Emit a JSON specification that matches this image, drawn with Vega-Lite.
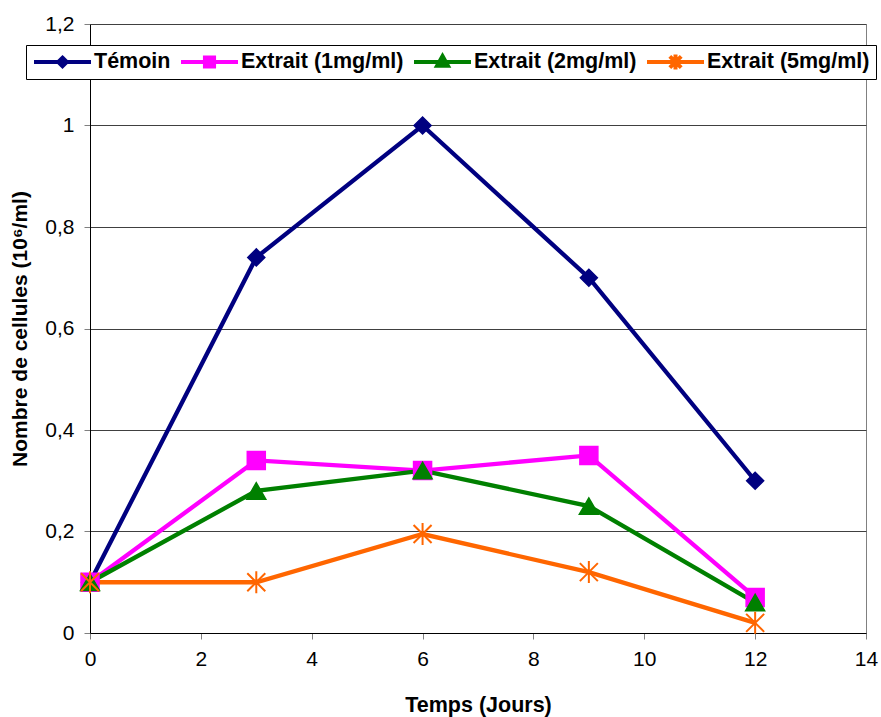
{
  "$schema": "https://vega.github.io/schema/vega-lite/v6.json",
  "autosize": "none",
  "width": 776,
  "height": 609,
  "padding": {"left": 90, "top": 24, "right": 15, "bottom": 84},
  "background": "white",
  "config": {
    "view": {"stroke": "#808080", "strokeWidth": 1},
    "font": "Liberation Sans"
  },
  "data": {
    "values": [
      {"serie": "Témoin", "jour": 0, "valeur": 0.1},
      {"serie": "Témoin", "jour": 3, "valeur": 0.74},
      {"serie": "Témoin", "jour": 6, "valeur": 1.0},
      {"serie": "Témoin", "jour": 9, "valeur": 0.7},
      {"serie": "Témoin", "jour": 12, "valeur": 0.3},
      {"serie": "Extrait (1mg/ml)", "jour": 0, "valeur": 0.1},
      {"serie": "Extrait (1mg/ml)", "jour": 3, "valeur": 0.34},
      {"serie": "Extrait (1mg/ml)", "jour": 6, "valeur": 0.32},
      {"serie": "Extrait (1mg/ml)", "jour": 9, "valeur": 0.35},
      {"serie": "Extrait (1mg/ml)", "jour": 12, "valeur": 0.07},
      {"serie": "Extrait (2mg/ml)", "jour": 0, "valeur": 0.1},
      {"serie": "Extrait (2mg/ml)", "jour": 3, "valeur": 0.28},
      {"serie": "Extrait (2mg/ml)", "jour": 6, "valeur": 0.32},
      {"serie": "Extrait (2mg/ml)", "jour": 9, "valeur": 0.25},
      {"serie": "Extrait (2mg/ml)", "jour": 12, "valeur": 0.06},
      {"serie": "Extrait (5mg/ml)", "jour": 0, "valeur": 0.1},
      {"serie": "Extrait (5mg/ml)", "jour": 3, "valeur": 0.1},
      {"serie": "Extrait (5mg/ml)", "jour": 6, "valeur": 0.195},
      {"serie": "Extrait (5mg/ml)", "jour": 9, "valeur": 0.12},
      {"serie": "Extrait (5mg/ml)", "jour": 12, "valeur": 0.02}
    ]
  },
  "encoding": {
    "x": {
      "field": "jour",
      "type": "quantitative",
      "scale": {"domain": [0, 14], "nice": false, "zero": false},
      "axis": {
        "values": [0, 2, 4, 6, 8, 10, 12, 14],
        "grid": false,
        "domainColor": "black",
        "domainWidth": 1,
        "tickColor": "#808080",
        "tickSize": 6,
        "labelFontSize": 21,
        "labelColor": "black",
        "labelPadding": 9,
        "labelFlush": false,
        "title": "Temps (Jours)",
        "titleFontSize": 21.5,
        "titleFontWeight": "bold",
        "titleColor": "black",
        "titlePadding": 25
      }
    },
    "y": {
      "field": "valeur",
      "type": "quantitative",
      "scale": {"domain": [0, 1.2], "nice": false},
      "axis": {
        "values": [0, 0.2, 0.4, 0.6, 0.8, 1.0, 1.2],
        "labelExpr": "replace(format(datum.value, '.1~f'), '.', ',')",
        "grid": true,
        "gridColor": "#404040",
        "gridWidth": 1,
        "domainColor": "black",
        "domainWidth": 1,
        "tickColor": "#808080",
        "tickSize": 6,
        "labelFontSize": 21,
        "labelColor": "black",
        "labelPadding": 10,
        "labelFlush": false,
        "title": "Nombre de cellules (10⁶/ml)",
        "titleFontSize": 21,
        "titleFontWeight": "bold",
        "titleColor": "black",
        "titlePadding": 14
      }
    },
    "color": {
      "field": "serie",
      "type": "nominal",
      "scale": {
        "domain": ["Témoin", "Extrait (1mg/ml)", "Extrait (2mg/ml)", "Extrait (5mg/ml)"],
        "range": ["#000080", "#FF00FF", "#008000", "#FF6600"]
      },
      "legend": {
        "orient": "none",
        "legendX": -64,
        "legendY": 21,
        "direction": "horizontal",
        "columns": 4,
        "title": null,
        "strokeColor": "black",
        "fillColor": "white",
        "padding": 6,
        "clipHeight": 22,
        "symbolSize": 3249,
        "symbolStrokeWidth": 0,
        "symbolOpacity": 1,
        "labelFontSize": 21.5,
        "labelFontWeight": "bold",
        "labelColor": "black",
        "labelOffset": 1,
        "labelLimit": 300,
        "columnPadding": 8,
        "encode": {
          "symbols": {
            "update": {
              "shape": {"signal": "datum.value === 'Témoin' ? 'M-1,0H1M0,-0.15L0.15,0L0,0.15L-0.15,0Z' : datum.value === 'Extrait (1mg/ml)' ? 'M-1,0H1M-0.16,-0.16H0.16V0.16H-0.16Z' : datum.value === 'Extrait (2mg/ml)' ? 'M-1,0H1M0,-0.21L0.19,0.13H-0.19Z' : 'M-1,0H1M-0.2,-0.2L0.2,0.2M-0.2,0.2L0.2,-0.2M0,-0.26V0.26'"},
              "fill": {"signal": "scale('color', datum.value)"},
              "stroke": {"signal": "scale('color', datum.value)"},
              "strokeWidth": {"value": 4}
            }
          }
        }
      }
    }
  },
  "layer": [
    {
      "mark": {"type": "line", "strokeWidth": 4.3}
    },
    {
      "transform": [{"filter": "datum.serie === 'Témoin'"}],
      "mark": {"type": "point", "filled": true, "opacity": 1, "shape": "diamond", "size": 290, "stroke": "#000080", "strokeWidth": 1.5}
    },
    {
      "transform": [{"filter": "datum.serie === 'Extrait (1mg/ml)'"}],
      "mark": {"type": "point", "filled": true, "opacity": 1, "shape": "square", "size": 324, "stroke": "#FF00FF", "strokeWidth": 1.5}
    },
    {
      "transform": [{"filter": "datum.serie === 'Extrait (2mg/ml)'"}],
      "mark": {"type": "point", "filled": true, "opacity": 1, "shape": "triangle-up", "size": 361, "stroke": "#008000", "strokeWidth": 1.5}
    },
    {
      "transform": [{"filter": "datum.serie === 'Extrait (5mg/ml)'"}],
      "mark": {"type": "point", "filled": false, "opacity": 1, "shape": "M-0.9,-0.9L0.9,0.9M-0.9,0.9L0.9,-0.9M0,-1.1V1.1", "size": 400, "strokeWidth": 2}
    }
  ]
}
